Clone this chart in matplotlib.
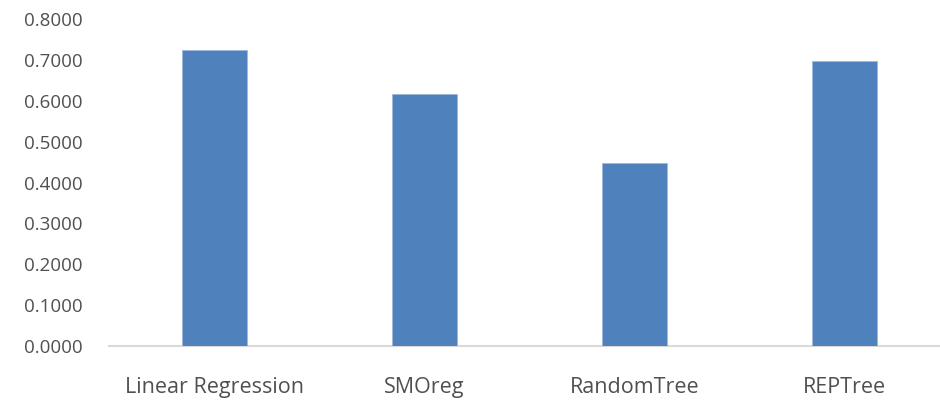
import matplotlib
matplotlib.use("Agg")
from matplotlib import pyplot as plt
import numpy as np

# values
models = ['Linear Regression', 'SMOreg', 'RandomTree', 'REPTree']
scores = [0.724, 0.616, 0.447, 0.697]
yticks = [0.0, 0.1, 0.2, 0.3, 0.4, 0.5, 0.6, 0.7, 0.8]

plt.rcParams['font.family'] = ['Open Sans', 'DejaVu Sans']

fig = plt.figure(figsize=(9.4, 4.07), dpi=100)
ax = fig.add_axes([0.116, 0.150, 0.894, 0.803])

x = np.arange(len(models))
ax.bar(x, scores, width=0.31, color='#4f81bd', edgecolor='#9db8dc', linewidth=0.6, zorder=2)

ax.set_xlim(-0.5, 3.5)
ax.set_ylim(0, 0.8)
ax.set_yticks(yticks)
ax.set_yticklabels(['%.4f' % v for v in yticks])
ax.set_xticks(x)
ax.set_xticklabels(models)

for s in ['top', 'right', 'left']:
    ax.spines[s].set_visible(False)
ax.spines['bottom'].set_color('#d9d9d9')
ax.spines['bottom'].set_linewidth(1.5)
ax.spines['bottom'].set_zorder(1)

ax.tick_params(axis='both', length=0, colors='#505050')
ax.tick_params(axis='y', pad=19, labelsize=13.5)
ax.tick_params(axis='x', pad=22, labelsize=15.5)

fig.savefig('out.png', dpi=100)
